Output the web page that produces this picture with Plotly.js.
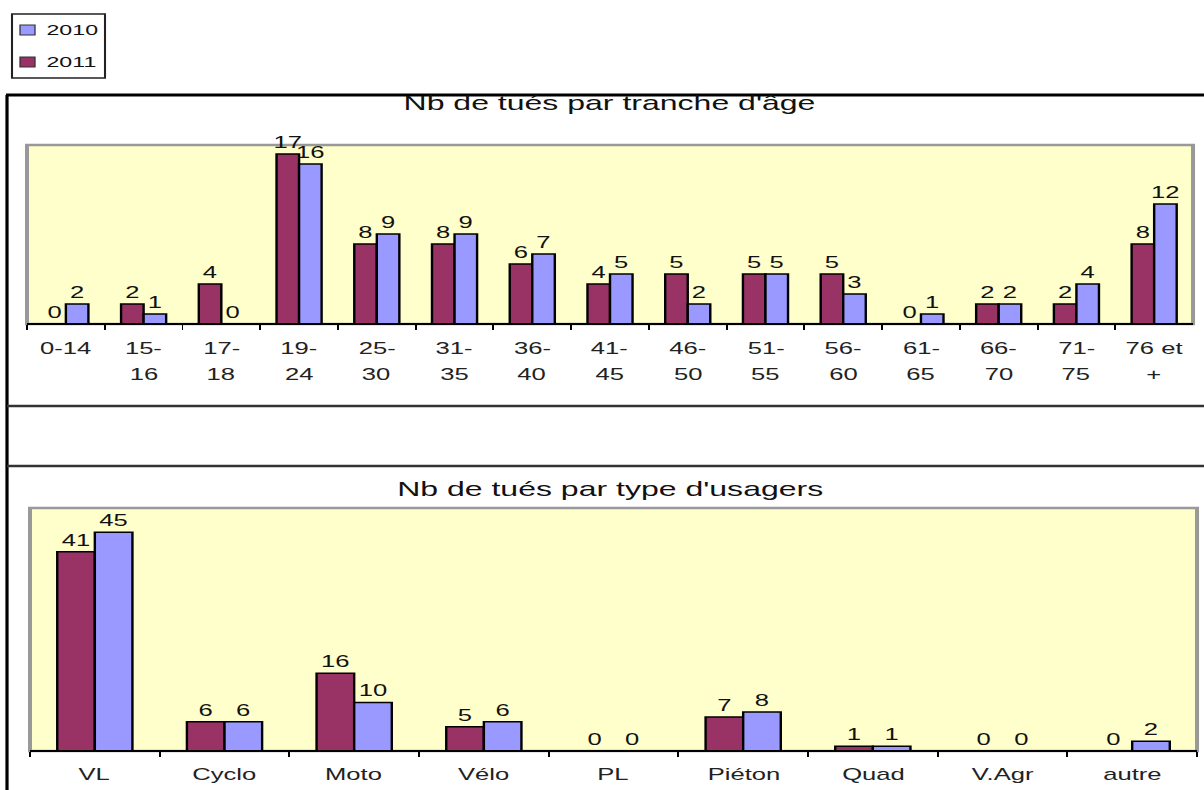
<!DOCTYPE html>
<html><head><meta charset="utf-8">
<script src="https://cdn.plot.ly/plotly-3.0.1.min.js"></script>
<style>
html,body{margin:0;padding:0;background:#fff;overflow:hidden}
#chart{width:752px;height:790px;transform:scaleX(1.6011);transform-origin:0 0}
</style>
</head><body><div id="chart"></div>
<script>
const ageCategories = ["0-14","15-<br>16","17-<br>18","19-<br>24","25-<br>30","31-<br>35","36-<br>40","41-<br>45","46-<br>50","51-<br>55","56-<br>60","61-<br>65","66-<br>70","71-<br>75","76 et<br>+"];
const age2011 = [0,2,4,17,8,8,6,4,5,5,5,0,2,2,8];
const age2010 = [2,1,0,16,9,9,7,5,2,5,3,1,2,4,12];
const userCategories = ["VL","Cyclo","Moto","Vélo","PL","Piéton","Quad","V.Agr","autre"];
const user2011 = [41,6,16,5,0,7,1,0,0];
const user2010 = [45,6,10,6,0,8,1,0,2];
const seriesNames = ["2010","2011"];

const C2011 = "#993366", C2010 = "#9999FF";
const FONT = "Liberation Sans, Arial, sans-serif";
const W = 752, H = 790, FULLW = 1204;          // drawn narrow, stretched by CSS like the reference
const px = v => v / FULLW, py = v => 1 - v / H;

function bar(x, y, name, color, xa, ya) {
  return {type: "bar", x: x, y: y, name: name, xaxis: xa, yaxis: ya, showlegend: false,
    marker: {color: color, line: {color: "#000", width: 1.5}},
    text: y.map(String), textposition: "outside", cliponaxis: false, constraintext: "none",
    textfont: {family: FONT, size: 16, color: "#111"}, hoverinfo: "x+y+name"};
}

const data = [
  bar(ageCategories, age2011, "2011", C2011, "x", "y"),
  bar(ageCategories, age2010, "2010", C2010, "x", "y"),
  bar(userCategories, user2011, "2011", C2011, "x2", "y2"),
  bar(userCategories, user2010, "2010", C2010, "x2", "y2")
];

const boxTop = {x0: 27, x1: 1193, y0: 145, y1: 324, lab1: 348, lab2: 374};
const boxBot = {x0: 30, x1: 1197, y0: 508, y1: 751, lab1: 774, lab2: 800};

const xcommon = {type: "category", showgrid: false, zeroline: false, showline: false, showticklabels: false,
  ticks: "outside", tickson: "boundaries", ticklen: 5, tickwidth: 1.2, tickcolor: "#000", fixedrange: true};
const ycommon = {showgrid: false, zeroline: false, showline: false, showticklabels: false, ticks: "", fixedrange: true};

const shapes = [];
const annotations = [];
function frame(b) {
  shapes.push({type: "rect", xref: "paper", yref: "paper", x0: px(b.x0), x1: px(b.x1), y0: py(b.y1), y1: py(b.y0),
    line: {color: "#999", width: 2.5}, layer: "below"});
  shapes.push({type: "line", xref: "paper", yref: "paper", x0: px(b.x0), x1: px(b.x1), y0: py(b.y1), y1: py(b.y1),
    line: {color: "#000", width: 1.8}, layer: "above"});
}
frame(boxTop); frame(boxBot);
shapes.push({type: "line", xref: "paper", yref: "paper", x0: px(7), x1: px(7), y0: py(95), y1: 0, line: {color: "#000", width: 2}});
shapes.push({type: "line", xref: "paper", yref: "paper", x0: px(6), x1: 1, y0: py(95), y1: py(95), line: {color: "#000", width: 3}});
shapes.push({type: "line", xref: "paper", yref: "paper", x0: px(7), x1: 1, y0: py(406), y1: py(406), line: {color: "#333", width: 2.5}});
shapes.push({type: "line", xref: "paper", yref: "paper", x0: px(7), x1: 1, y0: py(466), y1: py(466), line: {color: "#333", width: 2.5}});

// category labels (two-line labels with the reference's wide line spacing)
function catLabels(cats, xa, b) {
  cats.forEach(c => {
    c.split("<br>").forEach((line, i) => {
      annotations.push({xref: xa, yref: "paper", x: c, y: py(i === 0 ? b.lab1 : b.lab2), text: line,
        showarrow: false, xanchor: "center", yanchor: "middle",
        font: {family: FONT, size: 16, color: "#222"}});
    });
  });
}
catLabels(ageCategories, "x", boxTop);
catLabels(userCategories, "x2", boxBot);

// titles
annotations.push({xref: "paper", yref: "paper", x: px(610), y: py(103), text: "Nb de tués par tranche d'âge", showarrow: false,
  font: {family: FONT, size: 20, color: "#111"}, xanchor: "center", yanchor: "middle"});
annotations.push({xref: "paper", yref: "paper", x: px(610), y: py(489), text: "Nb de tués par type d'usagers", showarrow: false,
  font: {family: FONT, size: 20, color: "#111"}, xanchor: "center", yanchor: "middle"});

// legend box (2010 on top, 2011 below)
shapes.push({type: "rect", xref: "paper", yref: "paper", x0: px(12), x1: px(105), y0: py(78), y1: py(14),
  line: {color: "#222", width: 1.3}, fillcolor: "#fff"});
const legColors = {"2010": C2010, "2011": C2011};
seriesNames.forEach((n, i) => {
  const cy = 30 + i * 32;
  shapes.push({type: "rect", xref: "paper", yref: "paper", x0: px(20), x1: px(35), y0: py(cy + 5), y1: py(cy - 5),
    line: {color: "#333", width: 0.8}, fillcolor: legColors[n]});
  annotations.push({xref: "paper", yref: "paper", x: px(43), y: py(cy), text: n, showarrow: false,
    xanchor: "left", yanchor: "middle", font: {family: FONT, size: 14.5, color: "#111"}});
});

const layout = {
  width: W, height: H, margin: {l: 0, r: 0, t: 0, b: 0},
  paper_bgcolor: "#fff", plot_bgcolor: "#FFFFCC",
  barmode: "group", bargap: 0.42, bargroupgap: 0,
  font: {family: FONT, color: "#111"},
  xaxis: Object.assign({}, xcommon, {domain: [px(boxTop.x0), px(boxTop.x1)], anchor: "y"}),
  yaxis: Object.assign({}, ycommon, {domain: [py(boxTop.y1), py(boxTop.y0)], range: [0, 17.9], anchor: "x"}),
  xaxis2: Object.assign({}, xcommon, {domain: [px(boxBot.x0), px(boxBot.x1)], anchor: "y2"}),
  yaxis2: Object.assign({}, ycommon, {domain: [py(boxBot.y1), py(boxBot.y0)], range: [0, 50], anchor: "x2"}),
  showlegend: false,
  annotations: annotations,
  shapes: shapes
};

Plotly.newPlot("chart", data, layout, {displayModeBar: false, staticPlot: true});
</script>
</body></html>
